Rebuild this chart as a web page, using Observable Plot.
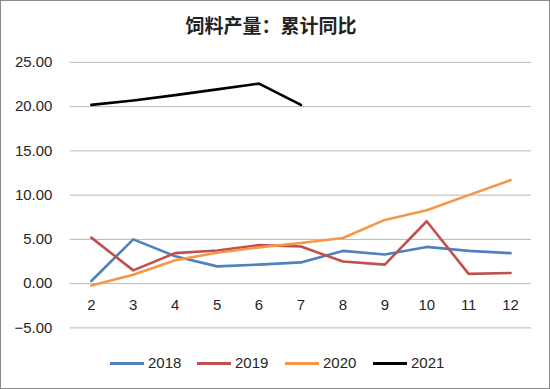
<!DOCTYPE html>
<html><head><meta charset="utf-8">
<script src="https://cdn.jsdelivr.net/npm/d3@7"></script>
<script src="https://cdn.jsdelivr.net/npm/@observablehq/plot@0.6"></script>
<style>
body{margin:0;background:#fff;}
#wrap{position:relative;width:550px;height:389px;box-sizing:border-box;border:1px solid #8a8a8a;background:#fff;overflow:hidden;font-family:"Liberation Sans",Arial,sans-serif;}
#title{position:absolute;left:0;top:0;width:540px;height:48px;line-height:48px;text-align:center;font-family:"Noto Sans CJK SC",sans-serif;font-weight:bold;font-size:19px;color:#222;}
#chart{position:absolute;left:-1px;top:-1px;}
#legend{position:absolute;left:0;top:352px;width:548px;height:20px;font-size:15px;color:#262626;}
#legend span.item{position:absolute;top:0;white-space:nowrap;line-height:20px;}
#legend span.sw{display:inline-block;width:34px;height:3px;vertical-align:middle;margin-right:4px;position:relative;top:-1px;}
</style></head>
<body><div id="wrap"><div id="title">饲料产量：累计同比</div><div id="chart"></div><div id="legend"></div></div>
<script>
const months = [2,3,4,5,6,7,8,9,10,11,12];
const s2018 = [0.3,5.0,3.1,1.95,2.15,2.4,3.7,3.3,4.15,3.7,3.45];
const s2019 = [5.2,1.5,3.45,3.75,4.35,4.2,2.5,2.15,7.05,1.1,1.2];
const s2020 = [-0.2,1.0,2.65,3.5,4.1,4.6,5.15,7.2,8.3,10.0,11.7];
const s2021 = [20.2,20.7,21.3,21.95,22.6,20.2];
const seriesNames = ["2018","2019","2020","2021"];
const seriesColors = ["#4f81bd","#c0504d","#f79646","#000000"];
const yTicks = [-5,0,5,10,15,20,25];

const all = [s2018,s2019,s2020,s2021];
const data = [];
all.forEach((arr,i)=>arr.forEach((v,j)=>data.push({month:months[j],value:v,series:seriesNames[i]})));

const chart = Plot.plot({
  width:550, height:389,
  marginLeft:70, marginRight:18, marginTop:62, marginBottom:61,
  x:{type:"point", domain:months, padding:0.5, axis:null},
  y:{domain:[-5,25], axis:null},
  color:{domain:seriesNames, range:seriesColors},
  style:{fontFamily:"Liberation Sans, Arial, sans-serif", fontSize:"15px", color:"#262626"},
  marks:[
    Plot.ruleY(yTicks,{stroke:"#b8b8b8",strokeWidth:1}),
    Plot.text(yTicks,{y:d=>d,text:d=>d3.format(".2f")(d),frameAnchor:"left",dx:-18,textAnchor:"end",fontSize:15,fill:"#262626"}),
    Plot.text(months,{x:d=>d,y:()=>0,text:d=>String(d),dy:22,fontSize:15,fill:"#262626"}),
    Plot.line(data,{x:"month",y:"value",z:"series",stroke:"series",strokeWidth:2.6,strokeLinejoin:"round"})
  ]
});
document.getElementById("chart").appendChild(chart);

const lg = document.getElementById("legend");
const legendLeft = [109,196,284,372];
seriesNames.forEach((n,i)=>{
  const it=document.createElement("span");it.className="item";
  it.style.left=legendLeft[i]+"px";
  it.innerHTML=`<span class="sw" style="background:${seriesColors[i]}"></span>${n}`;
  lg.appendChild(it);
});
</script></body></html>
